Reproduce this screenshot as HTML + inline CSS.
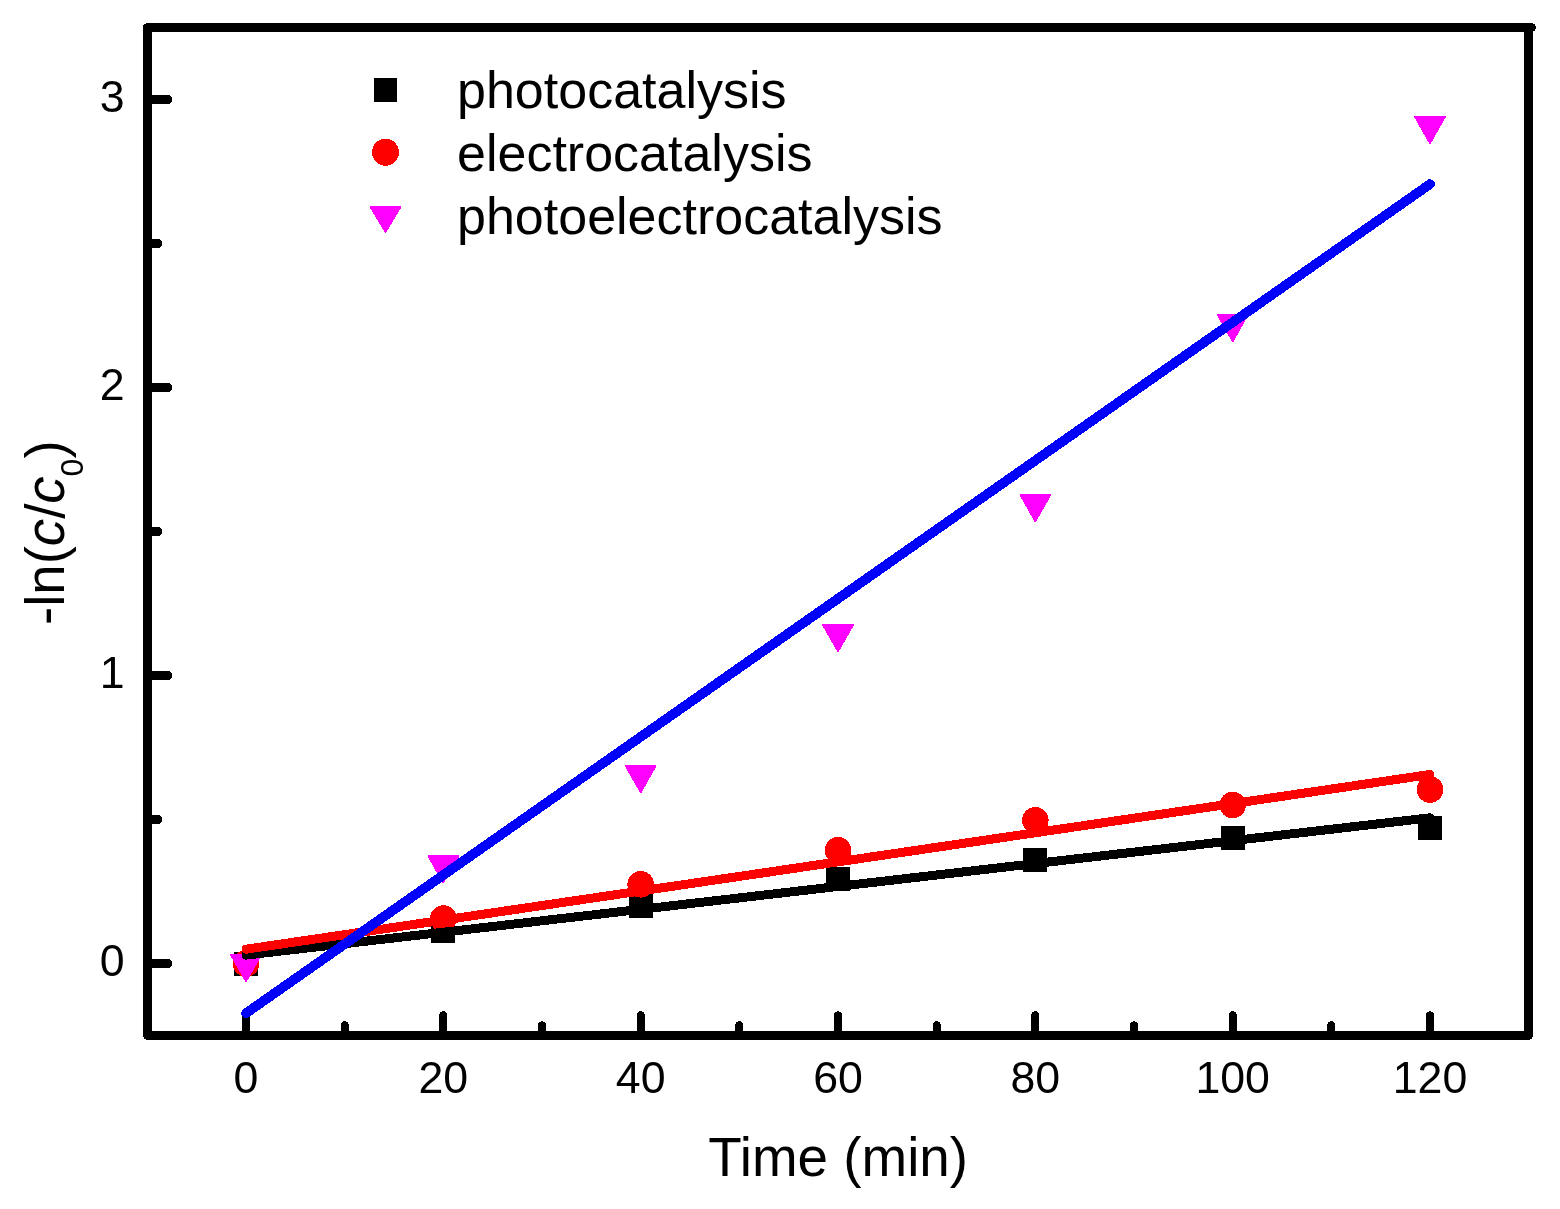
<!DOCTYPE html><html><head><meta charset="utf-8"><title>Kinetics plot</title><style>
html,body{margin:0;padding:0;background:#fff;}body{width:1560px;height:1209px;overflow:hidden;}svg{display:block;}path,rect,circle{shape-rendering:crispEdges;}
text{font-family:"Liberation Sans",Arial,sans-serif;fill:#000;}
</style></head><body>
<svg width="1560" height="1209" viewBox="0 0 1560 1209">
<rect width="1560" height="1209" fill="#fff"/>
<path d="M246.0 1035.5V1015.3 M443.3 1035.5V1015.3 M640.7 1035.5V1015.3 M838.0 1035.5V1015.3 M1035.3 1035.5V1015.3 M1232.7 1035.5V1015.3 M1430.0 1035.5V1015.3 M344.7 1035.5V1025.3 M542.0 1035.5V1025.3 M739.3 1035.5V1025.3 M936.7 1035.5V1025.3 M1134.0 1035.5V1025.3 M1331.3 1035.5V1025.3" stroke="#000" stroke-width="8" stroke-linecap="round" fill="none"/>
<path d="M147.5 963.5H167.8 M147.5 675.5H167.8 M147.5 387.5H167.8 M147.5 99.5H167.8 M147.5 819.5H157.8 M147.5 531.5H157.8 M147.5 243.5H157.8" stroke="#000" stroke-width="9" stroke-linecap="round" fill="none"/>
<rect x="234.0" y="952.0" width="24" height="24" fill="#000"/>
<rect x="431.3" y="919.4" width="24" height="24" fill="#000"/>
<rect x="628.7" y="894.0" width="24" height="24" fill="#000"/>
<rect x="826.0" y="867.0" width="24" height="24" fill="#000"/>
<rect x="1023.3" y="848.0" width="24" height="24" fill="#000"/>
<rect x="1220.7" y="826.0" width="24" height="24" fill="#000"/>
<rect x="1418.0" y="816.0" width="24" height="24" fill="#000"/>
<circle cx="246.0" cy="963.5" r="13.3" fill="#f00"/>
<circle cx="443.3" cy="918.6" r="13.3" fill="#f00"/>
<circle cx="640.7" cy="884.3" r="13.3" fill="#f00"/>
<circle cx="838.0" cy="850.2" r="13.3" fill="#f00"/>
<circle cx="1035.3" cy="820.3" r="13.3" fill="#f00"/>
<circle cx="1232.7" cy="805.0" r="13.3" fill="#f00"/>
<circle cx="1430.0" cy="789.5" r="13.3" fill="#f00"/>
<path d="M231.2 955.0H260.8L246.0 981.0Z" fill="#f0f" stroke="#f0f" stroke-width="2" stroke-linejoin="round"/>
<path d="M428.6 856.3H458.1L443.3 882.3Z" fill="#f0f" stroke="#f0f" stroke-width="2" stroke-linejoin="round"/>
<path d="M625.9 766.0H655.4L640.7 792.0Z" fill="#f0f" stroke="#f0f" stroke-width="2" stroke-linejoin="round"/>
<path d="M823.2 625.0H852.8L838.0 651.0Z" fill="#f0f" stroke="#f0f" stroke-width="2" stroke-linejoin="round"/>
<path d="M1020.6 495.0H1050.1L1035.3 521.0Z" fill="#f0f" stroke="#f0f" stroke-width="2" stroke-linejoin="round"/>
<path d="M1217.9 315.0H1247.4L1232.7 341.0Z" fill="#f0f" stroke="#f0f" stroke-width="2" stroke-linejoin="round"/>
<path d="M1415.2 116.9H1444.8L1430.0 142.9Z" fill="#f0f" stroke="#f0f" stroke-width="2" stroke-linejoin="round"/>
<path d="M246 955.1L1430 817.8" stroke="#000" stroke-width="9" stroke-linecap="round"/>
<path d="M246 949.2L1430 774.5" stroke="#f00" stroke-width="9" stroke-linecap="round"/>
<path d="M246 1013.2L1430 184.1" stroke="#00f" stroke-width="9.7" stroke-linecap="round"/>
<path d="M147.5 27.5H1531.5M147.5 27.5V1035.5M147.5 1035.5H1528.5M1528.5 27.5V1035.5" fill="none" stroke="#000" stroke-width="9" stroke-linecap="round"/>
<text x="246.0" y="1092.5" font-size="44.7" text-anchor="middle">0</text>
<text x="443.3" y="1092.5" font-size="44.7" text-anchor="middle">20</text>
<text x="640.7" y="1092.5" font-size="44.7" text-anchor="middle">40</text>
<text x="838.0" y="1092.5" font-size="44.7" text-anchor="middle">60</text>
<text x="1035.3" y="1092.5" font-size="44.7" text-anchor="middle">80</text>
<text x="1232.7" y="1092.5" font-size="44.7" text-anchor="middle">100</text>
<text x="1430.0" y="1092.5" font-size="44.7" text-anchor="middle">120</text>
<text x="124.5" y="976.2" font-size="44.7" text-anchor="end">0</text>
<text x="124.5" y="688.2" font-size="44.7" text-anchor="end">1</text>
<text x="124.5" y="400.2" font-size="44.7" text-anchor="end">2</text>
<text x="124.5" y="112.2" font-size="44.7" text-anchor="end">3</text>
<text x="708.3" y="1176" font-size="54.8">Time (min)</text>
<text transform="translate(64.1 625) rotate(-90)" font-size="54.6">-ln(<tspan font-style="italic">c</tspan>/<tspan font-style="italic">c</tspan><tspan font-size="32" dy="18.5">0</tspan><tspan dy="-18.5">)</tspan></text>
<rect x="373.5" y="78" width="23.5" height="23.5" fill="#000"/>
<circle cx="385.5" cy="152.3" r="13.5" fill="#f00"/>
<path d="M370.8 207.2H400.2L385.5 231.7Z" fill="#f0f" stroke="#f0f" stroke-width="2" stroke-linejoin="round"/>
<text x="457" y="107.7" font-size="52">photocatalysis</text>
<text x="457" y="170.6" font-size="52">electrocatalysis</text>
<text x="457" y="233.5" font-size="52">photoelectrocatalysis</text>
</svg></body></html>
